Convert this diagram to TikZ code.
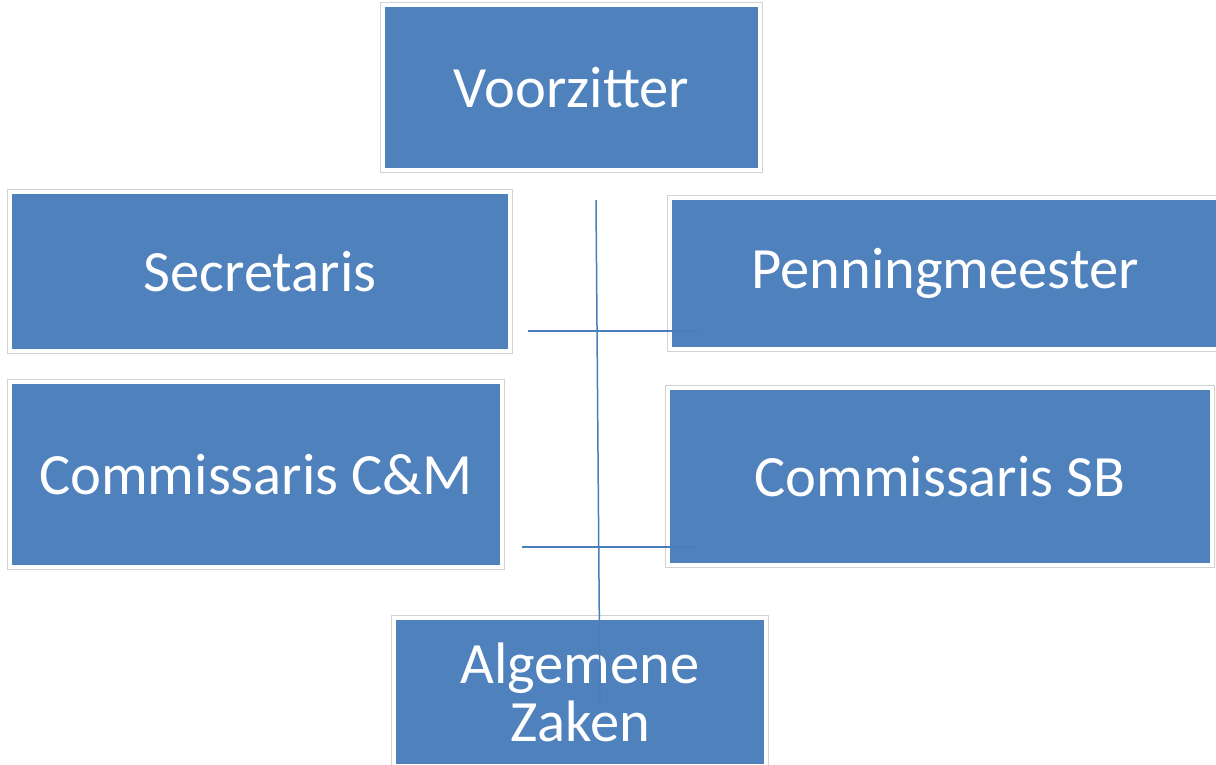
\documentclass[tikz,border=0pt]{standalone}
\usepackage{fontspec}
\setmainfont{Carlito}
\definecolor{boxblue}{HTML}{4F81BD}
\definecolor{lineblue}{HTML}{4A7EBB}
\definecolor{framegray}{HTML}{D2D2D2}
\begin{document}
\begin{tikzpicture}[x=1pt, y=-1pt, line join=round,
	post/.style={fill=boxblue, text=white, inner sep=0pt, align=center, font=\fontsize{58.5}{58}\selectfont},
	frame/.style={draw=framegray, line width=1.2pt},
	link/.style={draw=lineblue, line width=1.5pt}]
	\useasboundingbox (0,0) rectangle (1216,764);
	% bestuursposten
	\node[post, minimum width=373, minimum height=161] (voorz) at (571.5,87.5) {Voorzitter};
	\node[post, minimum width=496, minimum height=155] (secr) at (260,271.5) {Secretaris};
	\node[post, minimum width=546, minimum height=147] (penn) at (945,273.5) {Penningmeester};
	\node[post, minimum width=488, minimum height=181] (comcm) at (256,474.5) {Commissaris C\&M};
	\node[post, minimum width=540, minimum height=173] (comsb) at (940,476.5) {Commissaris SB};
	\node[post, minimum width=368, minimum height=144] (alg) at (580,692) {Algemene\\Zaken};
	\foreach \post in {voorz, secr, penn, comcm, comsb, alg}
		\draw[frame] ([shift={(-4.5,-4.5)}]\post.north west) rectangle ([shift={(4.5,4.5)}]\post.south east);
	% lijnen
	\coordinate (vtop) at (596,200);
	\coordinate (vbot) at (600,706);
	\coordinate (h1l) at (528,331);
	\coordinate (h1r) at (700,331);
	\coordinate (h2l) at (522,547);
	\coordinate (h2r) at (694,547);
	\draw[link] (vtop)--(vbot);
	\draw[link] (h1l)--(h1r);
	\draw[link] (h2l)--(h2r);
\end{tikzpicture}
\end{document}
